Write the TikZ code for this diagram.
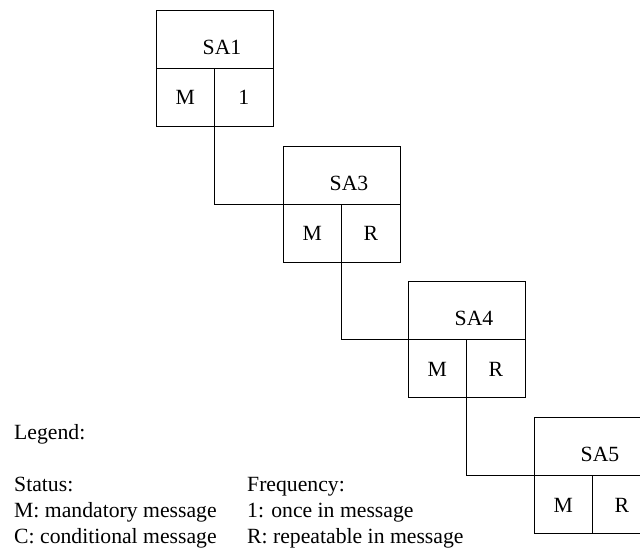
\documentclass[tikz,border=0pt]{standalone}
\usepackage{fontspec}
\setmainfont{Liberation Serif}
\usetikzlibrary{positioning}

\tikzset{
  cell/.style={draw, line width=0.9pt, minimum width=58.5pt, minimum height=58pt, inner sep=0pt, outer sep=0pt, text height=16pt, text depth=0pt},
  headcell/.style={cell, minimum width=117pt},
  legendtext/.style={anchor=base west, inner sep=0pt}
}

\begin{document}
\begin{tikzpicture}[x=1pt,y=-1pt,every node/.style={font=\fontsize{21.7}{26}\selectfont}]
	\clip (0,0) rectangle (640,548);

	% SA1
	\node[cell, anchor=south west] (sa1m) at (156,126) {M};
	\node[cell, right=0pt of sa1m] (sa1f) {1};
	\node[headcell, above right=0pt and 0pt of sa1m.north west, anchor=south west,
		label={[xshift=7.5pt,yshift=-8pt]center:SA1}] (sa1) {};

	% SA3
	\node[cell, anchor=south west] (sa3m) at (283,262) {M};
	\node[cell, right=0pt of sa3m] (sa3f) {R};
	\node[headcell, above right=0pt and 0pt of sa3m.north west, anchor=south west,
		label={[xshift=7.5pt,yshift=-8pt]center:SA3}] (sa3) {};

	% SA4
	\node[cell, anchor=south west] (sa4m) at (408,397) {M};
	\node[cell, right=0pt of sa4m] (sa4f) {R};
	\node[headcell, above right=0pt and 0pt of sa4m.north west, anchor=south west,
		label={[xshift=7.5pt,yshift=-8pt]center:SA4}] (sa4) {};

	% SA5
	\node[cell, anchor=south west] (sa5m) at (534,533) {M};
	\node[cell, right=0pt of sa5m] (sa5f) {R};
	\node[headcell, above right=0pt and 0pt of sa5m.north west, anchor=south west,
		label={[xshift=7.5pt,yshift=-8pt]center:SA5}] (sa5) {};

	\draw[line width=0.9pt] (sa1m.south east) |- (sa3m.north west);
	\draw[line width=0.9pt] (sa3m.south east) |- (sa4m.north west);
	\draw[line width=0.9pt] (sa4m.south east) |- (sa5m.north west);

	%legend
	\node[legendtext] (legend) at (14,439) {Legend:};
	\node[legendtext] (status) at (14,491) {Status:};
	\node[legendtext] (mand) at (14,517) {M: mandatory message};
	\node[legendtext] (cond) at (14,543) {C: conditional message};
	\node[legendtext] (freq) at (247,491) {Frequency:};
	\node[legendtext] (once) at (247,517) {1: once in message};
	\node[legendtext] (rep) at (247,543) {R: repeatable in message};

\end{tikzpicture}
\end{document}
